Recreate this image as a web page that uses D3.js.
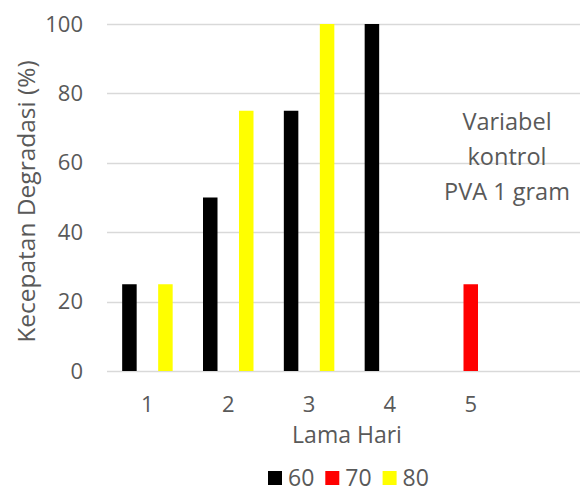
<!DOCTYPE html>
<html>
<head>
<meta charset="utf-8">
<script src="https://cdn.jsdelivr.net/npm/d3@7"></script>
<style>
  html, body { margin: 0; padding: 0; background: #fff; }
  svg { display: block; font-family: "Open Sans", sans-serif; }
  .tick text { fill: #595959; }
</style>
</head>
<body>
<div id="chart"></div>
<script>
// chart data
const days = ["1", "2", "3", "4", "5", "6"];
const dayLabels = ["1", "2", "3", "4", "5", ""];
const seriesNames = ["60", "70", "80"];
const seriesColors = ["#000000", "#ff0000", "#ffff00"];
const values60 = [25, 50, 75, 100, null, null];
const values70 = [null, null, null, null, 25, null];
const values80 = [25, 75, 100, null, null, null];
const yTicks = [0, 20, 40, 60, 80, 100];
const noteLines = ["Variabel", "kontrol", "PVA 1 gram"];

document.addEventListener('DOMContentLoaded', () => {
    const width = 580, height = 488;
    const plot = { left: 107, right: 592, top: 24, bottom: 371 };

    const svg = d3.select("#chart")
        .append("svg")
        .attr("width", width)
        .attr("height", height);

    const x0 = d3.scaleBand()
        .domain(days)
        .range([plot.left, plot.right])
        .padding(0);

    const groupWidth = 50.5;
    const x1 = d3.scaleBand()
        .domain(seriesNames)
        .range([(x0.bandwidth() - groupWidth) / 2, (x0.bandwidth() + groupWidth) / 2])
        .paddingInner(0.194)
        .paddingOuter(0);

    const y = d3.scaleLinear()
        .domain([0, 100])
        .range([plot.bottom, plot.top]);

    // gridlines
    svg.append("g")
        .selectAll("line")
        .data(yTicks)
        .enter()
        .append("line")
        .attr("x1", plot.left)
        .attr("x2", plot.right)
        .attr("y1", d => Math.round(y(d)) + 0.5)
        .attr("y2", d => Math.round(y(d)) + 0.5)
        .attr("stroke", "#d9d9d9")
        .attr("stroke-width", 1.3);

    // y axis labels
    const yAxis = svg.append("g")
        .attr("transform", `translate(${plot.left},0)`)
        .call(d3.axisLeft(y).tickValues(yTicks).tickSize(0).tickPadding(24));
    yAxis.select(".domain").remove();
    yAxis.selectAll("text").attr("font-size", 22).attr("font-family", "Open Sans");

    // x axis labels
    const xAxis = svg.append("g")
        .attr("transform", `translate(0,${plot.bottom})`)
        .call(d3.axisBottom(x0).tickSize(0).tickPadding(25)
            .tickFormat((d, i) => dayLabels[i]));
    xAxis.select(".domain").remove();
    xAxis.selectAll("text").attr("font-size", 22).attr("font-family", "Open Sans");

    // bars
    const seriesData = [values60, values70, values80];
    const rows = [];
    seriesData.forEach((vals, s) => {
        vals.forEach((v, i) => {
            if (v !== null) rows.push({ day: days[i], series: seriesNames[s], value: v, color: seriesColors[s] });
        });
    });

    svg.append("g")
        .selectAll("rect")
        .data(rows)
        .enter()
        .append("rect")
        .attr("x", d => x0(d.day) + x1(d.series))
        .attr("y", d => y(d.value))
        .attr("width", x1.bandwidth())
        .attr("height", d => y(0) - y(d.value))
        .attr("fill", d => d.color);

    // axis titles
    svg.append("text")
        .attr("transform", `translate(35,${(plot.top + plot.bottom) / 2 + 4}) rotate(-90)`)
        .attr("text-anchor", "middle")
        .attr("font-size", 24.5)
        .attr("fill", "#595959")
        .text("Kecepatan Degradasi (%)");

    svg.append("text")
        .attr("x", 347)
        .attr("y", 443)
        .attr("text-anchor", "middle")
        .attr("font-size", 23)
        .attr("fill", "#595959")
        .text("Lama Hari");

    // annotation
    svg.append("g")
        .selectAll("text")
        .data(noteLines)
        .enter()
        .append("text")
        .attr("x", 507)
        .attr("y", (d, i) => 130 + i * 35)
        .attr("text-anchor", "middle")
        .attr("font-size", 23.5)
        .attr("fill", "#595959")
        .text(d => d);

    // legend
    const legend = svg.append("g")
        .attr("transform", "translate(268,471)");
    const item = legend.selectAll("g")
        .data(seriesNames)
        .enter()
        .append("g")
        .attr("transform", (d, i) => `translate(${i * 57.3},0)`);
    item.append("rect")
        .attr("width", 14)
        .attr("height", 14)
        .attr("fill", (d, i) => seriesColors[i]);
    item.append("text")
        .attr("x", 20)
        .attr("y", 14.5)
        .attr("font-size", 23)
        .attr("fill", "#595959")
        .text(d => d);
});
</script>
</body>
</html>
